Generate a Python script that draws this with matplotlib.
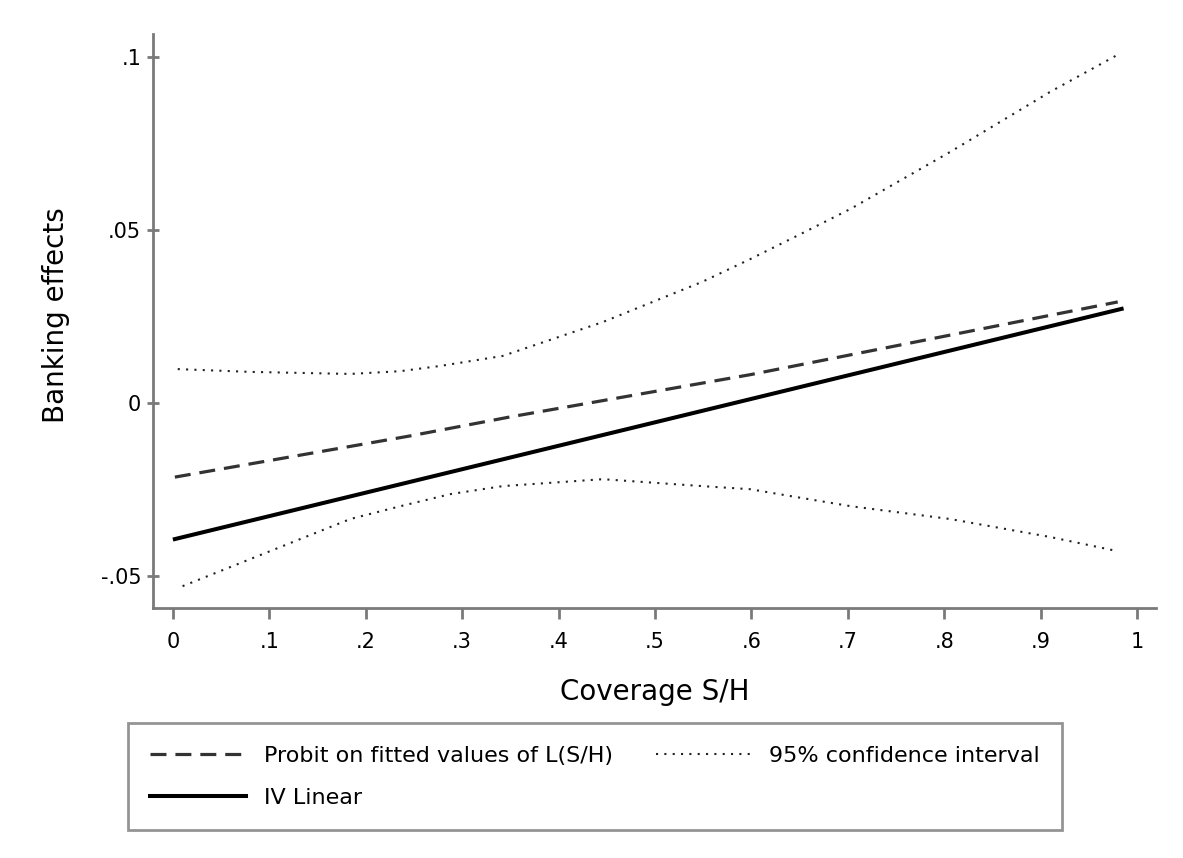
import matplotlib
matplotlib.use("Agg")
import matplotlib.pyplot as plt

# Data
x_iv = [0.002, 0.984]
y_iv = [-0.0393, 0.0272]

x_probit = [0.002, 0.246, 0.35, 0.599, 0.98]
y_probit = [-0.0214, -0.0095, -0.0040, 0.0082, 0.0292]

x_ci = [0.005, 0.08, 0.184, 0.236, 0.277, 0.342, 0.446, 0.549, 0.599, 0.651, 0.703, 0.806, 0.910, 0.980]
y_ci_upper = [0.0098, 0.0090, 0.0084, 0.0092, 0.0107, 0.0136, 0.0234, 0.0350, 0.0416, 0.0488, 0.0561, 0.0725, 0.0899, 0.1006]

x_ci_lo = [0.010, 0.08, 0.184, 0.236, 0.288, 0.342, 0.446, 0.549, 0.599, 0.641, 0.703, 0.806, 0.910, 0.980]
y_ci_lower = [-0.0529, -0.0451, -0.0335, -0.0298, -0.0263, -0.0240, -0.0220, -0.0240, -0.0249, -0.0269, -0.0298, -0.0335, -0.0387, -0.0428]

x_ticks = [0, 0.1, 0.2, 0.3, 0.4, 0.5, 0.6, 0.7, 0.8, 0.9, 1.0]
x_ticklabels = ["0", ".1", ".2", ".3", ".4", ".5", ".6", ".7", ".8", ".9", "1"]
y_ticks = [-0.05, 0, 0.05, 0.1]
y_ticklabels = ["-.05", "0", ".05", ".1"]

plt.rcParams['font.family'] = ['DejaVu Sans']
fig = plt.figure(figsize=(11.83, 8.58), dpi=100)
ax = fig.add_axes([0.1293, 0.2914, 0.8479, 0.669])

gray = "#7a7a7a"
l_probit, = ax.plot(x_probit, y_probit, color="#333333", lw=2.3, linestyle=(0, (5, 2.8)),
                    label="Probit on fitted values of L(S/H)")
l_iv, = ax.plot(x_iv, y_iv, color="black", lw=2.9, label="IV Linear")
l_ci, = ax.plot(x_ci, y_ci_upper, color="#222222", lw=1.5, linestyle=(0, (1, 3)),
                label="95% confidence interval")
ax.plot(x_ci_lo, y_ci_lower, color="#222222", lw=1.5, linestyle=(0, (1, 3)))

ax.set_xlim(-0.0207, 1.0197)
ax.set_ylim(-0.0592, 0.1066)

for s in ["top", "right"]:
    ax.spines[s].set_visible(False)
for s in ["left", "bottom"]:
    ax.spines[s].set_color(gray)
    ax.spines[s].set_linewidth(2)

ax.set_xticks(x_ticks)
ax.set_xticklabels(x_ticklabels)
ax.set_yticks(y_ticks)
ax.set_yticklabels(y_ticklabels)
ax.tick_params(axis="x", direction="out", length=8, width=2, color=gray, labelsize=15, pad=9)
ax.tick_params(axis="y", direction="inout", length=9, width=2, color=gray, labelsize=15, pad=4)

ax.set_xlabel("Coverage S/H", fontsize=20, labelpad=19)
ax.set_ylabel("Banking effects", fontsize=20)
ax.yaxis.set_label_coords(-0.083, 0.51)

leg = fig.legend(handles=[l_probit, l_iv, l_ci], ncol=2, loc="lower left",
                 bbox_to_anchor=(128 / 1183, 1 - 830 / 858, (1062 - 128) / 1183, (830 - 726) / 858),
                 mode="expand", fontsize=16, handlelength=4.3, frameon=True, fancybox=False,
                 borderpad=1.0, labelspacing=1.0, columnspacing=1.2, handletextpad=0.8,
                 borderaxespad=0)
leg.get_frame().set_edgecolor(gray)
leg.get_frame().set_linewidth(2)

fig.savefig("out.png", dpi=100, facecolor="white")
